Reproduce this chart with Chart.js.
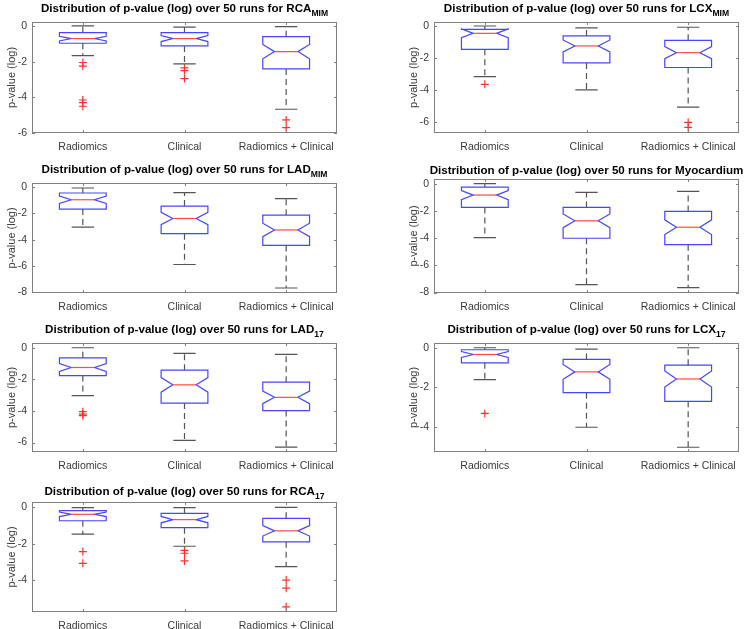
<!DOCTYPE html>
<html>
<head>
<meta charset="utf-8">
<script src="https://cdn.jsdelivr.net/npm/chart.js@4"></script>
<style>
  body { margin: 0; background: #fff; width: 750px; height: 629px; overflow: hidden; position: relative; }
  canvas { position: absolute; }
</style>
</head>
<body>
<script>
// Groups on the x axis
const groups = ["Radiomics", "Clinical", "Radiomics + Clinical"];
const runs = 50;

// One entry per panel (reading order)
const titleNames = ["RCA", "LCX", "LAD", "Myocardium", "LAD", "LCX", "RCA"];
const titleSubs = ["MIM", "MIM", "MIM", "", "17", "17", "17"];

// Box plot statistics of log p-value, one row per panel, one value per group
const whiskerHigh = [
    [0.0, -0.07, -0.04],
    [0.0, -0.12, -0.08],
    [-0.08, -0.43, -0.89],
    [0.0, -0.64, -0.57],
    [0.0, -0.36, -0.42],
    [0.0, -0.07, 0.0],
    [-0.04, -0.04, -0.02]
];
const upperQuartile = [
    [-0.37, -0.37, -0.6],
    [-0.21, -0.62, -0.9],
    [-0.46, -1.45, -2.14],
    [-0.25, -1.75, -2.04],
    [-0.64, -1.42, -2.18],
    [-0.1, -0.59, -0.88],
    [-0.2, -0.35, -0.62]
];
const medians = [
    [-0.71, -0.71, -1.44],
    [-0.46, -1.25, -1.67],
    [-0.97, -2.39, -3.26],
    [-0.84, -2.73, -3.2],
    [-1.25, -2.35, -3.14],
    [-0.34, -1.22, -1.58],
    [-0.4, -0.69, -1.3]
];
const lowerQuartile = [
    [-0.97, -1.12, -2.41],
    [-1.46, -2.31, -2.6],
    [-1.68, -3.54, -4.43],
    [-1.75, -4.01, -4.48],
    [-1.76, -3.5, -3.98],
    [-0.76, -2.27, -2.71],
    [-0.75, -1.13, -1.9]
];
const whiskerLow = [
    [-1.66, -2.13, -4.67],
    [-3.17, -4.0, -5.08],
    [-3.05, -5.88, -7.66],
    [-3.97, -7.41, -7.63],
    [-3.03, -5.87, -6.29],
    [-1.61, -4.02, -5.03],
    [-1.48, -2.14, -3.25]
];
const outliers = [
    [[-2.05, -2.25, -4.15, -4.3, -4.5], [-2.35, -2.5, -2.95], [-5.27, -5.7]],
    [[-3.65], [], [-6.04, -6.35]],
    [[], [], []],
    [[], [], []],
    [[-4.05, -4.2, -4.3], [], []],
    [[-3.32], [], []],
    [[-2.43, -3.07], [-2.36, -2.52, -2.94], [-3.98, -4.42, -5.44]]
];

// Axis limits and tick labels
const yLimits = [
    [-6.0, 0.22], [-6.7, 0.25], [-8.04, 0.3], [-8.03, 0.34],
    [-6.6, 0.3], [-5.27, 0.24], [-5.72, 0.27]
];
const yTicks = [
    [-6, -4, -2, 0], [-6, -4, -2, 0], [-8, -6, -4, -2, 0], [-8, -6, -4, -2, 0],
    [-6, -4, -2, 0], [-4, -2, 0], [-4, -2, 0]
];

// Where each axes box sits on the page
const panels = [
    { left: 32, top: 22, w: 305, h: 111, titleGap: 10.5 },
    { left: 434, top: 22, w: 305, h: 111, titleGap: 10.5 },
    { left: 32, top: 183, w: 305, h: 110, titleGap: 10.5 },
    { left: 434, top: 179, w: 305, h: 114, titleGap: 5.5 },
    { left: 32, top: 343, w: 305, h: 109, titleGap: 10.5 },
    { left: 434, top: 343, w: 305, h: 109, titleGap: 10 },
    { left: 32, top: 502, w: 305, h: 110, titleGap: 7.5 }
];

const FONT = "'Liberation Sans', Arial, sans-serif";
const TEXT = "#3a3a3a";
const AXIS = "#808080";

const boxPlugin = {
    id: "boxes",
    afterDatasetsDraw(chart) {
        const p = chart.options.plugins.boxes.panel;
        const x = chart.scales.x, y = chart.scales.y;
        const ctx = chart.ctx;
        const unit = x.getPixelForValue(2) - x.getPixelForValue(1);
        const half = 0.23 * unit, indent = 0.115 * unit, cap = 0.11 * unit;
        ctx.save();
        ctx.lineWidth = 1.2;
        for (let i = 0; i < groups.length; i++) {
            const cx = x.getPixelForValue(i + 1);
            const q1 = lowerQuartile[p][i], q3 = upperQuartile[p][i], med = medians[p][i];
            const notch = 1.57 * (q3 - q1) / Math.sqrt(runs);

            // whiskers
            ctx.strokeStyle = "#555555";
            ctx.setLineDash([6, 4]);
            ctx.beginPath();
            ctx.moveTo(cx, y.getPixelForValue(q3));
            ctx.lineTo(cx, y.getPixelForValue(whiskerHigh[p][i]));
            ctx.moveTo(cx, y.getPixelForValue(q1));
            ctx.lineTo(cx, y.getPixelForValue(whiskerLow[p][i]));
            ctx.stroke();
            ctx.setLineDash([]);
            ctx.beginPath();
            [whiskerHigh[p][i], whiskerLow[p][i]].forEach(v => {
                const py = y.getPixelForValue(v);
                ctx.moveTo(cx - cap, py);
                ctx.lineTo(cx + cap, py);
            });
            ctx.stroke();

            // notched box
            const l = cx - half, r = cx + half;
            ctx.strokeStyle = "#4646ff";
            ctx.beginPath();
            ctx.moveTo(l, y.getPixelForValue(q1));
            ctx.lineTo(l, y.getPixelForValue(med - notch));
            ctx.lineTo(l + indent, y.getPixelForValue(med));
            ctx.lineTo(l, y.getPixelForValue(med + notch));
            ctx.lineTo(l, y.getPixelForValue(q3));
            ctx.lineTo(r, y.getPixelForValue(q3));
            ctx.lineTo(r, y.getPixelForValue(med + notch));
            ctx.lineTo(r - indent, y.getPixelForValue(med));
            ctx.lineTo(r, y.getPixelForValue(med - notch));
            ctx.lineTo(r, y.getPixelForValue(q1));
            ctx.closePath();
            ctx.stroke();

            // median
            ctx.strokeStyle = "#ff4a4a";
            ctx.beginPath();
            ctx.moveTo(l + indent, y.getPixelForValue(med));
            ctx.lineTo(r - indent, y.getPixelForValue(med));
            ctx.stroke();
        }
        ctx.restore();
    }
};

const framePlugin = {
    id: "frame",
    afterDraw(chart) {
        const p = chart.options.plugins.boxes.panel;
        const a = chart.chartArea;
        const ctx = chart.ctx;
        const x = chart.scales.x, y = chart.scales.y;
        ctx.save();
        ctx.strokeStyle = AXIS;
        ctx.lineWidth = 1;
        ctx.strokeRect(a.left + 0.5, a.top + 0.5, a.right - a.left - 1, a.bottom - a.top - 1);
        ctx.beginPath();
        yTicks[p].forEach(v => {
            const py = Math.round(y.getPixelForValue(v)) + 0.5;
            ctx.moveTo(a.left, py); ctx.lineTo(a.left + 3, py);
            ctx.moveTo(a.right, py); ctx.lineTo(a.right - 3, py);
        });
        groups.forEach((g, i) => {
            const px = Math.round(x.getPixelForValue(i + 1)) + 0.5;
            ctx.moveTo(px, a.bottom); ctx.lineTo(px, a.bottom - 3);
            ctx.moveTo(px, a.top); ctx.lineTo(px, a.top + 3);
        });
        ctx.stroke();

        // title with subscript
        const main = "Distribution of p-value (log) over " + runs + " runs for " + titleNames[p];
        const sub = titleSubs[p];
        ctx.fillStyle = "#000";
        ctx.textBaseline = "alphabetic";
        ctx.textAlign = "left";
        ctx.font = "bold 11.6px " + FONT;
        const wMain = ctx.measureText(main).width;
        ctx.font = "bold 8.6px " + FONT;
        const wSub = sub ? ctx.measureText(sub).width : 0;
        const start = (a.left + a.right) / 2 - (wMain + wSub) / 2;
        const base = a.top - panels[p].titleGap;
        ctx.font = "bold 11.6px " + FONT;
        ctx.fillText(main, start, base);
        if (sub) {
            ctx.font = "bold 8.6px " + FONT;
            ctx.fillText(sub, start + wMain, base + 4);
        }
        ctx.restore();
    }
};

panels.forEach((pn, p) => {
    const padL = 32, padT = 26, padR = 12, padB = 24;
    const cv = document.createElement("canvas");
    cv.width = padL + pn.w + padR;
    cv.height = padT + pn.h + padB;
    cv.style.left = (pn.left - padL) + "px";
    cv.style.top = (pn.top - padT) + "px";
    document.body.appendChild(cv);

    const points = [];
    outliers[p].forEach((list, i) => list.forEach(v => points.push({ x: i + 1, y: v })));

    new Chart(cv, {
        type: "scatter",
        data: {
            datasets: [{
                data: points,
                pointStyle: "cross",
                pointRadius: 4,
                pointBorderWidth: 1.2,
                borderColor: "#ff3030",
                backgroundColor: "#ff3030"
            }]
        },
        options: {
            responsive: false,
            animation: false,
            layout: { padding: { left: 0, top: padT, right: padR, bottom: 0 } },
            plugins: {
                legend: { display: false },
                tooltip: { enabled: false },
                boxes: { panel: p }
            },
            scales: {
                x: {
                    type: "linear",
                    min: 0.5,
                    max: 3.5,
                    grid: { display: false, drawTicks: false },
                    border: { display: false },
                    afterBuildTicks: s => { s.ticks = groups.map((g, i) => ({ value: i + 1 })); },
                    afterFit: s => { s.height = padB; },
                    ticks: {
                        autoSkip: false,
                        maxRotation: 0,
                        padding: 8,
                        color: TEXT,
                        font: { family: FONT, size: 10.5 },
                        callback: v => groups[v - 1]
                    }
                },
                y: {
                    min: yLimits[p][0],
                    max: yLimits[p][1],
                    grid: { display: false, drawTicks: false },
                    border: { display: false },
                    afterBuildTicks: s => { s.ticks = yTicks[p].map(v => ({ value: v })); },
                    afterFit: s => { s.width = padL; },
                    ticks: {
                        padding: 5,
                        color: TEXT,
                        font: { family: FONT, size: 10.5 },
                        callback: v => String(v)
                    },
                    title: {
                        display: true,
                        text: "p-value (log)",
                        color: TEXT,
                        font: { family: FONT, size: 11 },
                        padding: { top: 5, bottom: 0 }
                    }
                }
            }
        },
        plugins: [boxPlugin, framePlugin]
    });
});
</script>
</body>
</html>
